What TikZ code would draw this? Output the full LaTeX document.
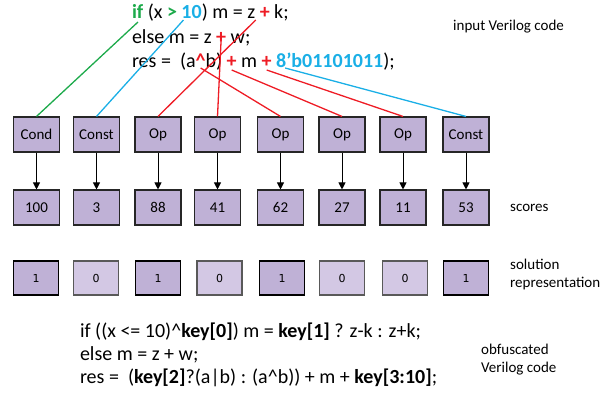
\documentclass[tikz,border=0pt]{standalone}
\usepackage{fontspec}
\setmainfont{Carlito}
\newfontfamily\bitfont{DejaVu Sans}
\usetikzlibrary{arrows.meta}

% a space that survives at the edge of a node
\newcommand\tsp{\hbox{\ }}

\definecolor{kwgreen}{HTML}{1DAA4B}
\definecolor{kwblue}{HTML}{1AAFE6}
\definecolor{kwred}{HTML}{EE1C25}
\definecolor{boxfill}{HTML}{BFB1D6}
\definecolor{boxfilllight}{HTML}{D3C8E4}

\tikzset{
  tok/.style={inner sep=0pt, outer sep=0pt, anchor=base west,
              font=\fontsize{20}{24}\selectfont},
  lbl/.style={inner sep=0pt, align=left, font=\fontsize{15}{18}\selectfont},
  nodebox/.style={draw=black!85, line width=1.1pt, fill=boxfill,
                  minimum width=46pt, minimum height=35pt, inner sep=0pt,
                  font=\fontsize{15}{18}\selectfont},
  bitone/.style={draw=black, line width=1.8pt, fill=boxfill,
                 minimum width=45pt, minimum height=34pt, inner sep=0pt,
                 font=\bitfont\fontsize{11}{13}\selectfont},
  bitzero/.style={draw=black!65, line width=1.1pt, fill=boxfilllight,
                  minimum width=45pt, minimum height=34pt, inner sep=0pt,
                  font=\bitfont\fontsize{11}{13}\selectfont},
  link/.style={line width=1.3pt},
  arr/.style={line width=1pt, -{Triangle[length=7pt,width=7pt]}},
}

\begin{document}
\begin{tikzpicture}[x=1pt, y=-1pt]
\useasboundingbox (0,0) rectangle (616,402);

% ---- input code, built token by token so that tokens can be linked ----
\node[tok, text=kwgreen] (kwif) at (132,18) {\bfseries if};
\node[tok] (l1a) at (kwif.base east) {\tsp(x\tsp};
\node[tok, text=kwgreen] (kwgt) at (l1a.base east) {\bfseries >};
\node[tok] (l1b) at (kwgt.base east) {\tsp};
\node[tok, text=kwblue] (kwten) at (l1b.base east) {\bfseries 10};
\node[tok] (l1c) at (kwten.base east) {) m = z\tsp};
\node[tok, text=kwred] (opA) at (l1c.base east) {\bfseries +};
\node[tok] (l1d) at (opA.base east) {\tsp k;};

\node[tok] (l2a) at (132,43) {else m = z\tsp};
\node[tok, text=kwred] (opB) at (l2a.base east) {\bfseries +};
\node[tok] (l2b) at (opB.base east) {\tsp w;};

\node[tok] (l3a) at (132,67) {res =\tsp\tsp(a};
\node[tok, text=kwred] (caret) at (l3a.base east) {\bfseries \textasciicircum};
\node[tok] (l3b) at (caret.base east) {b)\tsp};
\node[tok, text=kwred] (opC) at (l3b.base east) {\bfseries +};
\node[tok] (l3c) at (opC.base east) {\tsp m\tsp};
\node[tok, text=kwred] (opD) at (l3c.base east) {\bfseries +};
\node[tok] (l3d) at (opD.base east) {\tsp};
\node[tok, text=kwblue] (num) at (l3d.base east) {\bfseries 8’b01101011};
\node[tok] (l3e) at (num.base east) {);};

% ---- node type boxes ----
\foreach \i/\x/\t in {1/36.5/Cond, 2/96.5/Const, 3/158/Op, 4/217.5/Op,
                      5/280.5/Op, 6/342/Op, 7/403/Op, 8/466/Const}
  \node[nodebox] (c\i) at (\x,134.5) {\t};

% ---- scores ----
\foreach \i/\x/\t in {1/36.5/100, 2/96.5/3, 3/158/88, 4/217.5/41,
                      5/280.5/62, 6/342/27, 7/403/11, 8/466/53}
  \node[nodebox] (s\i) at (\x,207.5) {\t};

\foreach \i in {1,...,8}
  \draw[arr] (c\i.south) -- (s\i.north);

% ---- solution bits ----
\node[bitone]  (b1) at (36,278)  {1};
\node[bitzero] (b2) at (96,278)  {0};
\node[bitone]  (b3) at (158,278) {1};
\node[bitzero] (b4) at (219.5,278) {0};
\node[bitone]  (b5) at (282,278) {1};
\node[bitzero] (b6) at (342,278) {0};
\node[bitzero] (b7) at (405,278) {0};
\node[bitone]  (b8) at (466,278) {1};

% ---- links from code tokens to their node boxes ----
\draw[link, kwgreen] ([xshift=6pt,yshift=-4pt]kwif.base west) -- (c1.north);
\draw[link, kwblue] ([xshift=2pt,yshift=-2pt]kwten.base west) -- (c2.north);
\draw[link, kwred] ([xshift=-4pt,yshift=-2pt]opA.base west) -- (c3.north);
\draw[link, kwred] (opB.center) -- (c4.north);
\draw[link, kwred] ([yshift=-1pt]caret.base) -- (c5.north);
\draw[link, kwred] ([yshift=-3pt]opC.base) -- (c6.north);
\draw[link, kwred] ([yshift=-3pt]opD.base) -- (c7.north);
\draw[link, kwblue] ([xshift=9pt,yshift=-1pt]num.base west) -- (c8.north);

% ---- obfuscated code ----
\node[tok] (o1) at (80,337)
  {if ((x <= 10)\textasciicircum\textbf{key[0]}) m = \textbf{key[1]} ? z-k : z+k;};
\node[tok] (o2) at (80,360) {else m = z + w;};
\node[tok] (o3) at (80,383)
  {res =\tsp\tsp(\textbf{key[2]}?(a|b) : (a\textasciicircum b)) + m + \textbf{key[3:10]};};

% ---- captions ----
\node[lbl, anchor=west] (capin) at (453,27) {input Verilog code};
\node[lbl, anchor=west] (capsc) at (510,208) {scores};
\node[lbl, anchor=west] (capsol) at (510,274) {solution\\representation};
\node[lbl, anchor=west] (capob) at (481,360) {obfuscated\\Verilog code};
\end{tikzpicture}
\end{document}
